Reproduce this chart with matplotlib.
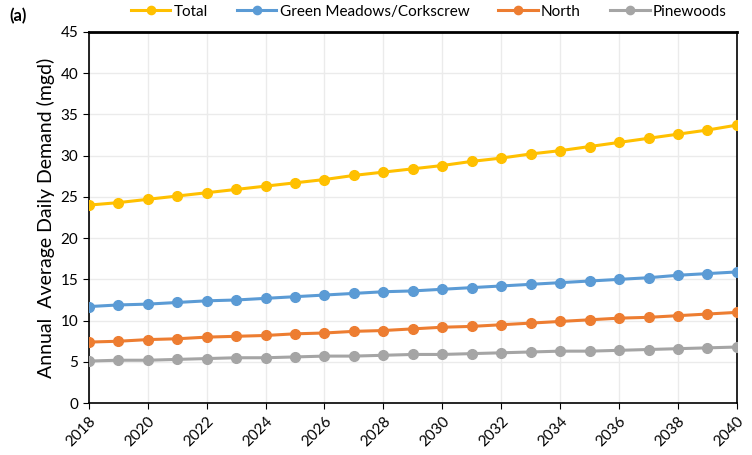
import matplotlib
matplotlib.use('Agg')
import matplotlib.pyplot as plt
import numpy as np

years = list(range(2018, 2041))
total = [24.0, 24.3, 24.7, 25.1, 25.5, 25.9, 26.3, 26.7, 27.1, 27.6, 28.0, 28.4,
         28.8, 29.3, 29.7, 30.2, 30.6, 31.1, 31.6, 32.1, 32.6, 33.1, 33.7]
green_meadows = [11.7, 11.9, 12.0, 12.2, 12.4, 12.5, 12.7, 12.9, 13.1, 13.3, 13.5, 13.6,
                 13.8, 14.0, 14.2, 14.4, 14.6, 14.8, 15.0, 15.2, 15.5, 15.7, 15.9]
north = [7.4, 7.5, 7.7, 7.8, 8.0, 8.1, 8.2, 8.4, 8.5, 8.7, 8.8, 9.0,
         9.2, 9.3, 9.5, 9.7, 9.9, 10.1, 10.3, 10.4, 10.6, 10.8, 11.0]
pinewoods = [5.1, 5.2, 5.2, 5.3, 5.4, 5.5, 5.5, 5.6, 5.7, 5.7, 5.8, 5.9,
             5.9, 6.0, 6.1, 6.2, 6.3, 6.3, 6.4, 6.5, 6.6, 6.7, 6.8]

series = [
    ('Total', total, '#FFC000'),
    ('Green Meadows/Corkscrew', green_meadows, '#5B9BD5'),
    ('North', north, '#ED7D31'),
    ('Pinewoods', pinewoods, '#A5A5A5'),
]

plt.rcParams['font.family'] = ['Lato', 'DejaVu Sans']

fig = plt.figure(figsize=(7.52, 4.55), dpi=100)
ax = fig.add_axes([0.118, 0.114, 0.862, 0.816])

for name, vals, col in series:
    ax.plot(years, vals, color=col, lw=2.2, marker='o', ms=7, label=name, zorder=3)

ax.set_xlim(2018, 2040)
ax.set_ylim(0, 45)
ax.set_xticks(range(2018, 2041, 2))
ax.set_yticks(range(0, 46, 5))
ax.tick_params(axis='x', labelrotation=45, labelsize=11, length=4, direction='out', pad=4)
ax.tick_params(axis='y', labelsize=11, length=4, direction='out')
for lab in ax.get_xticklabels():
    lab.set_ha('right')
    lab.set_rotation_mode('anchor')
ax.grid(True, color='#ebebeb', lw=1, zorder=0)
for sp in ax.spines.values():
    sp.set_color('black')
    sp.set_linewidth(1.2)
ax.spines['top'].set_linewidth(2)

ax.set_ylabel('Annual  Average Daily Demand (mgd)', fontsize=14)

fig.text(0.012, 0.965, '(a)', fontsize=12, fontweight='bold', va='center')
fig.legend(loc='center', bbox_to_anchor=(0.57, 0.974), ncol=4, frameon=False,
           fontsize=11, handlelength=2.6, columnspacing=1.9, handletextpad=0.2,
           borderaxespad=0, markerscale=0.85)

fig.savefig('out.png', dpi=100)
